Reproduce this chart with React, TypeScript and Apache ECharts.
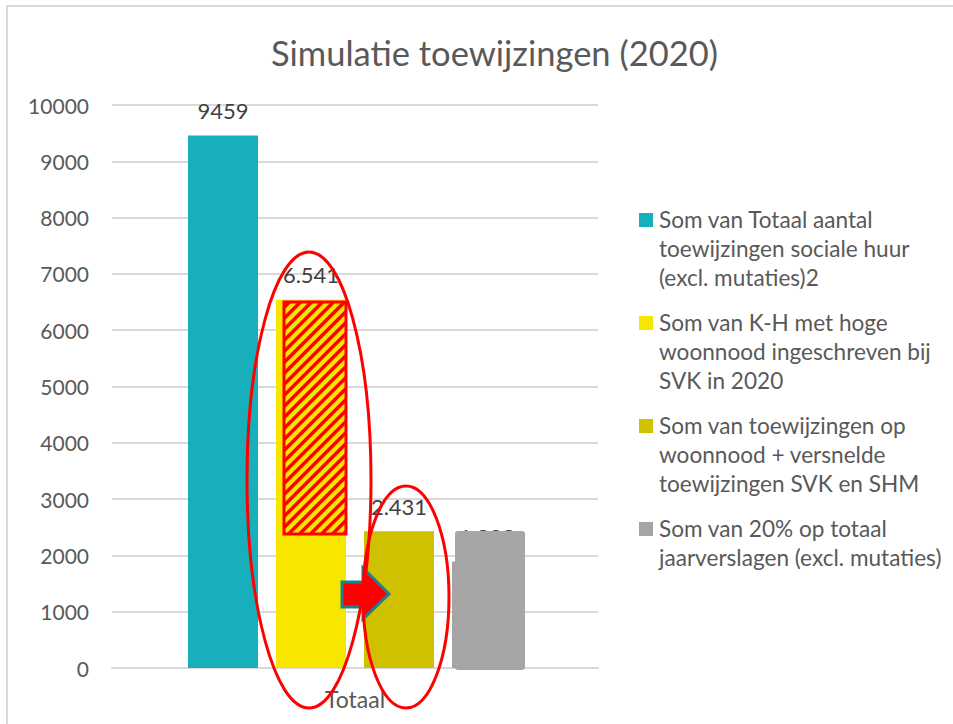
import React, { useEffect, useRef } from "react";
import * as echarts from "echarts";

const categories = ["Totaal"];
const seriesNames = [
  "Som van Totaal aantal\ntoewijzingen sociale huur\n(excl. mutaties)2",
  "Som van K-H met hoge\nwoonnood ingeschreven bij\nSVK in 2020",
  "Som van toewijzingen op\nwoonnood + versnelde\ntoewijzingen SVK en SHM",
  "Som van 20% op totaal\njaarverslagen (excl. mutaties)",
];
const totaalToewijzingen = [9459];
const khHogeWoonnood = [6541];
const toewijzingenWoonnood = [2431];
const twintigProcent = [1892];
const seriesValues = [totaalToewijzingen, khHogeWoonnood, toewijzingenWoonnood, twintigProcent];
const useDotSeparator = [false, true, true, true];
const colors = ["#17AFBB", "#F7E600", "#D0C100", "#A5A5A5"];
const yTicks = { min: 0, max: 10000, interval: 1000 };

const FONT = "Lato";
const TEXT = "#595959";

function fmt(v: number, dot: boolean) {
  const s = String(v);
  return dot ? s.replace(/\B(?=(\d{3})+(?!\d))/g, ".") : s;
}

function stripes(x0: number, y0: number, x1: number, y1: number, step: number) {
  const out: any[] = [];
  for (let c = x0 + y0 + step / 2; c < x1 + y1; c += step) {
    const sx = Math.max(x0, c - y1);
    const ex = Math.min(x1, c - y0);
    if (ex <= sx) continue;
    out.push({
      type: "line",
      z: 101,
      shape: { x1: sx, y1: c - sx, x2: ex, y2: c - ex },
      style: { stroke: "#FF0000", lineWidth: 3.5 },
      silent: true,
    });
  }
  return out;
}

export default function App() {
  const ref = useRef<HTMLDivElement>(null);
  useEffect(() => {
    document.body.style.margin = "0";
    const chart = echarts.init(ref.current!, undefined, { renderer: "svg" });

    const legendEls: any[] = [];
    let ly = 205;
    seriesNames.forEach((name, i) => {
      const lines = name.split("\n").length;
      legendEls.push({
        type: "rect",
        shape: { x: 639, y: ly + 8, width: 14, height: 14 },
        style: { fill: colors[i] },
      });
      legendEls.push({
        type: "text",
        x: 659,
        y: ly,
        style: {
          text: name,
          fill: TEXT,
          font: `22.6px ${FONT}`,
          lineHeight: 29,
          textVerticalAlign: "top",
        },
      });
      ly += lines * 29 + 16;
    });

    const hx0 = 284, hy0 = 302, hx1 = 346, hy1 = 534;

    chart.setOption({
      animation: false,
      backgroundColor: "#FFFFFF",
      textStyle: { fontFamily: FONT },
      title: {
        text: "Simulatie toewijzingen (2020)",
        left: 266,
        top: 30,
        textStyle: { fontFamily: FONT, fontWeight: "normal", fontSize: 34.5, color: TEXT },
      },
      grid: { left: 112, right: 355, top: 105, bottom: 56 },
      xAxis: {
        type: "category",
        data: categories,
        axisLine: { lineStyle: { color: "#D9D9D9", width: 2 } },
        axisTick: { show: false },
        axisLabel: { color: TEXT, fontSize: 23, fontFamily: FONT, margin: 19 },
      },
      yAxis: {
        type: "value",
        min: yTicks.min,
        max: yTicks.max,
        interval: yTicks.interval,
        axisLabel: {
          color: TEXT,
          fontSize: 21,
          fontFamily: FONT,
          margin: 23,
          formatter: (v: number) => String(v),
        },
        splitLine: { lineStyle: { color: "#D9D9D9", width: 2 } },
        axisLine: { show: false },
        axisTick: { show: false },
      },
      series: seriesValues.map((vals, i) => ({
        type: "bar",
        name: seriesNames[i],
        data: vals,
        barWidth: 70,
        barGap: "25.7%",
        itemStyle: { color: colors[i] },
        label: {
          show: true,
          position: "top",
          distance: 14,
          color: "#404040",
          fontSize: 22,
          fontFamily: FONT,
          formatter: (p: any) => fmt(p.value, useDotSeparator[i]),
        },
      })),
      graphic: [
        {
          type: "rect",
          z: 0,
          silent: true,
          shape: { x: 7, y: 6, width: 960, height: 730 },
          style: { fill: "none", stroke: "#D9D9D9", lineWidth: 2 },
        },
        ...legendEls,
        {
          type: "rect",
          z: 100,
          shape: { x: hx0, y: hy0, width: hx1 - hx0, height: hy1 - hy0 },
          style: { fill: "#F7E600" },
        },
        ...stripes(hx0, hy0, hx1, hy1, 11),
        {
          type: "rect",
          z: 102,
          shape: { x: hx0, y: hy0, width: hx1 - hx0, height: hy1 - hy0 },
          style: { fill: "none", stroke: "#FF0000", lineWidth: 3 },
        },
        {
          type: "rect",
          z: 100,
          shape: { x: 455, y: 531, width: 70, height: 139, r: 3 },
          style: { fill: "#A6A6A6" },
        },
        {
          type: "polygon",
          z: 103,
          shape: {
            points: [
              [342, 582], [363, 582], [363, 568], [389, 594], [363, 619], [363, 607], [342, 607],
            ],
          },
          style: { fill: "#FF0000", stroke: "#23808A", lineWidth: 3 },
        },
        {
          type: "ellipse",
          z: 104,
          shape: { cx: 309, cy: 480, rx: 62, ry: 228 },
          style: { fill: "none", stroke: "#FF0000", lineWidth: 3 },
        },
        {
          type: "ellipse",
          z: 104,
          shape: { cx: 406, cy: 597, rx: 43, ry: 111 },
          style: { fill: "none", stroke: "#FF0000", lineWidth: 3 },
        },
      ],
    });
    return () => chart.dispose();
  }, []);
  return <div ref={ref} style={{ width: 953, height: 724 }} />;
}
